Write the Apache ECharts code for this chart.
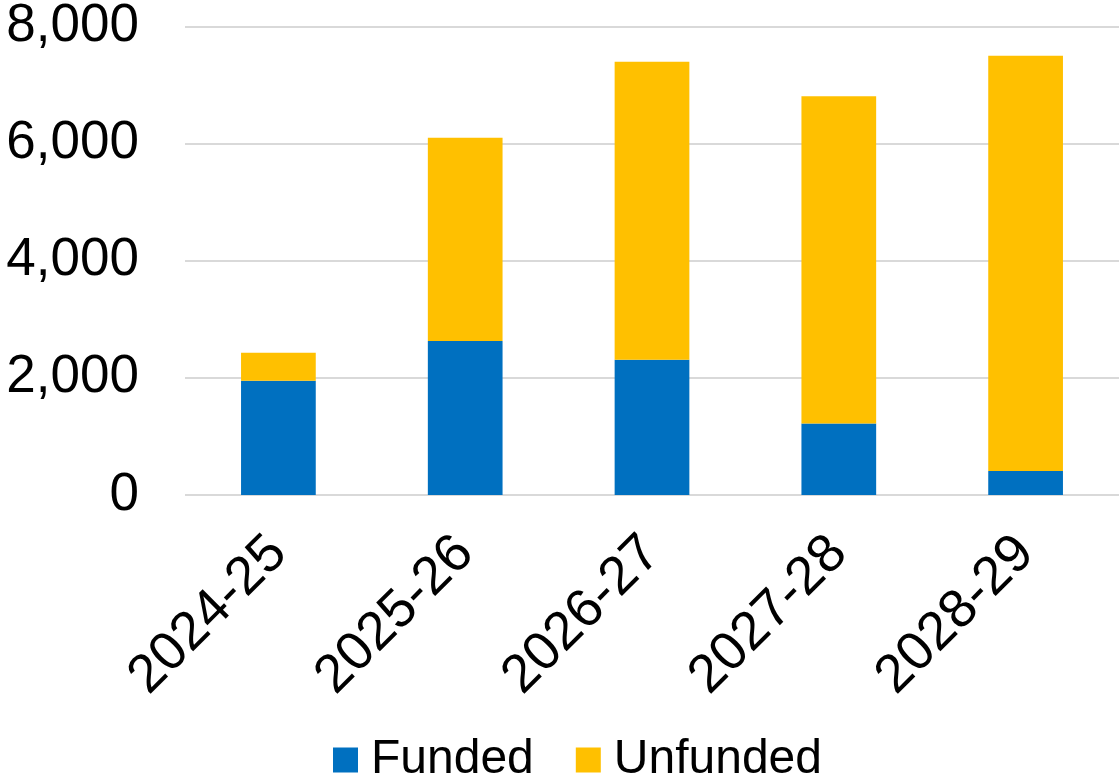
<!DOCTYPE html>
<html>
<head>
<meta charset="utf-8">
<script src="https://cdn.jsdelivr.net/npm/echarts@6/dist/echarts.min.js"></script>
<style>
  html, body { margin: 0; padding: 0; background: #ffffff; }
  #chart { width: 1119px; height: 781px; }
</style>
</head>
<body>
<div id="chart"></div>
<script>
// Financial years on the category axis
const years = ['2024-25', '2025-26', '2026-27', '2027-28', '2028-29'];
// Stacked components
const funded = [1950, 2630, 2310, 1220, 410];
const unfunded = [480, 3470, 5090, 5590, 7090];
// Value-axis ticks
const yTicks = [0, 2000, 4000, 6000, 8000];

const FONT = '"Liberation Sans", Arial, sans-serif';

const chart = echarts.init(document.getElementById('chart'), null, { renderer: 'canvas' });

chart.setOption({
  animation: false,
  textStyle: { fontFamily: FONT },
  grid: { left: 185, right: -4, top: 23, bottom: 286, containLabel: false },
  legend: {
    bottom: -8,
    left: 328,
    itemWidth: 25,
    itemHeight: 25,
    itemGap: 42,
    icon: 'rect',
    textStyle: { fontSize: 48, color: '#000000', fontFamily: FONT, padding: [0, 0, 0, 8] },
    data: ['Funded', 'Unfunded']
  },
  xAxis: {
    type: 'category',
    data: years,
    axisLine: { show: false },
    axisTick: { show: false },
    axisLabel: {
      rotate: 45,
      margin: 50,
      fontSize: 54,
      color: '#000000',
      fontFamily: FONT,
      interval: 0
    }
  },
  yAxis: {
    type: 'value',
    min: yTicks[0],
    max: yTicks[yTicks.length - 1],
    interval: 2000,
    axisLine: { show: false },
    axisTick: { show: false },
    axisLabel: {
      margin: 46,
      fontSize: 53,
      color: '#000000',
      fontFamily: FONT,
      formatter: v => v.toLocaleString('en-US')
    },
    splitLine: { lineStyle: { color: '#d9d9d9', width: 2 } }
  },
  series: [
    {
      name: 'Funded',
      type: 'bar',
      stack: 'total',
      barWidth: '40%',
      itemStyle: { color: '#0070C0' },
      data: funded
    },
    {
      name: 'Unfunded',
      type: 'bar',
      stack: 'total',
      barWidth: '40%',
      itemStyle: { color: '#FFC000' },
      data: unfunded
    }
  ]
});
</script>
</body>
</html>
